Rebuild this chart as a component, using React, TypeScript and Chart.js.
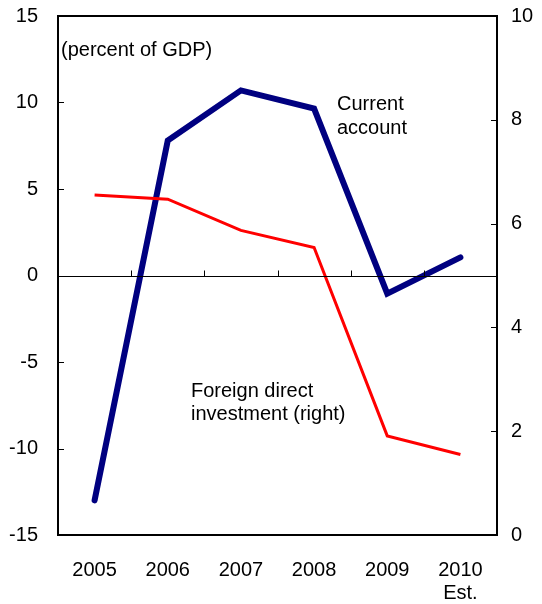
import React, { useEffect, useRef } from "react";
import { Chart, registerables } from "chart.js";

Chart.register(...registerables);

const years = [["2005"], ["2006"], ["2007"], ["2008"], ["2009"], ["2010", "Est."]];
const currentAccount = [-13.0, 7.8, 10.7, 9.65, -1.05, 1.05];
const fdiRight = [6.55, 6.47, 5.87, 5.54, 1.91, 1.55];
const leftTicks = [-15, -10, -5, 0, 5, 10, 15];
const rightTicks = [0, 2, 4, 6, 8, 10];

const FONT = "'Liberation Sans', Arial, sans-serif";

const framePlugin = {
  id: "frame",
  afterDatasetsDraw(chart: any) {
    const { ctx, chartArea: a, scales } = chart;
    const y = scales.y;
    const y2 = scales.y2;
    const x = scales.x;
    ctx.save();
    ctx.strokeStyle = "#000";
    ctx.lineWidth = 1;
    const zy = Math.round(y.getPixelForValue(0)) + 0.5;
    ctx.beginPath();
    ctx.moveTo(a.left, zy);
    ctx.lineTo(a.right, zy);
    ctx.stroke();
    const n = years.length;
    for (let i = 1; i < n; i++) {
      const px = Math.round((x.getPixelForValue(i - 1) + x.getPixelForValue(i)) / 2) + 0.5;
      ctx.beginPath();
      ctx.moveTo(px, zy);
      ctx.lineTo(px, zy - 6);
      ctx.stroke();
    }
    leftTicks.forEach((v) => {
      const py = Math.round(y.getPixelForValue(v)) + 0.5;
      ctx.beginPath();
      ctx.moveTo(a.left, py);
      ctx.lineTo(a.left + 6, py);
      ctx.stroke();
    });
    rightTicks.forEach((v) => {
      const py = Math.round(y2.getPixelForValue(v)) + 0.5;
      ctx.beginPath();
      ctx.moveTo(a.right, py);
      ctx.lineTo(a.right - 6, py);
      ctx.stroke();
    });
    ctx.lineWidth = 2;
    ctx.strokeRect(a.left, a.top, a.right - a.left, a.bottom - a.top);
    ctx.fillStyle = "#000";
    ctx.font = `20px ${FONT}`;
    ctx.textAlign = "left";
    ctx.textBaseline = "alphabetic";
    ctx.fillText("(percent of GDP)", 61, 56);
    ctx.fillText("Current", 337, 110);
    ctx.fillText("account", 337, 134);
    ctx.fillText("Foreign direct", 191, 397);
    ctx.fillText("investment (right)", 191, 420);
    ctx.restore();
  },
};

export default function App() {
  const ref = useRef<HTMLCanvasElement>(null);
  useEffect(() => {
    if (!ref.current) return;
    const chart = new Chart(ref.current, {
      type: "line",
      data: {
        labels: years as any,
        datasets: [
          {
            data: fdiRight,
            yAxisID: "y2",
            borderColor: "#FF0000",
            borderWidth: 3,
            pointRadius: 0,
            tension: 0,
            borderJoinStyle: "miter",
          },
          {
            data: currentAccount,
            yAxisID: "y",
            borderColor: "#000080",
            borderWidth: 6,
            pointRadius: 0,
            tension: 0,
            borderCapStyle: "round",
            borderJoinStyle: "miter",
          },
        ],
      },
      options: {
        responsive: false,
        animation: false,
        events: [],
        layout: { padding: { top: 16, left: 0, right: 0, bottom: 0 } },
        plugins: { legend: { display: false }, tooltip: { enabled: false } },
        scales: {
          x: {
            offset: true,
            grid: { display: false, drawTicks: false },
            border: { display: false },
            ticks: {
              color: "#000",
              font: { size: 20, family: FONT, lineHeight: 1.15 },
              padding: 24,
              maxRotation: 0,
              autoSkip: false,
            },
            afterFit(s: any) {
              s.height = 69;
              s.paddingLeft = 0;
              s.paddingRight = 0;
            },
          },
          y: {
            position: "left",
            min: -15,
            max: 15,
            grid: { display: false, drawTicks: false },
            border: { display: false },
            ticks: {
              stepSize: 5,
              color: "#000",
              font: { size: 20, family: FONT },
              padding: 20,
            },
            afterFit(s: any) {
              s.width = 58;
              s.paddingTop = 0;
              s.paddingBottom = 0;
            },
          },
          y2: {
            position: "right",
            min: 0,
            max: 10,
            grid: { display: false, drawTicks: false },
            border: { display: false },
            ticks: {
              stepSize: 2,
              color: "#000",
              font: { size: 20, family: FONT },
              padding: 14,
            },
            afterFit(s: any) {
              s.width = 45;
              s.paddingTop = 0;
              s.paddingBottom = 0;
            },
          },
        },
      },
      plugins: [framePlugin],
    });
    return () => chart.destroy();
  }, []);
  return (
    <div style={{ position: "fixed", left: 0, top: 0, width: 542, height: 604, background: "#fff" }}>
      <canvas ref={ref} width={542} height={604} style={{ display: "block" }} />
    </div>
  );
}
